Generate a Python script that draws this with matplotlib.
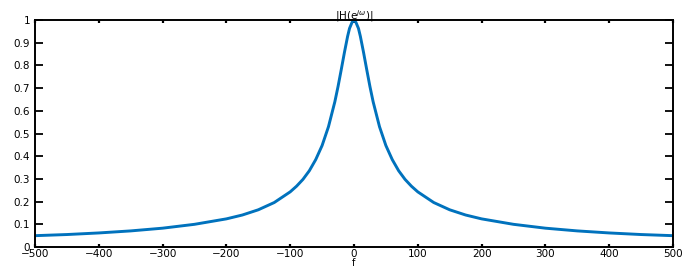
import matplotlib.pyplot as plt

# frequency points and magnitude values
f = [-500, -450, -400, -350, -300, -250, -200, -175, -150, -125, -100, -90, -80,
     -70, -60, -50, -40, -30, -25, -20, -15, -10, -7, -3, 0,
     3, 7, 10, 15, 20, 25, 30, 40, 50, 60, 70, 80, 90, 100,
     125, 150, 175, 200, 250, 300, 350, 400, 450, 500]
mag = [0.050, 0.055, 0.062, 0.071, 0.083, 0.100, 0.124, 0.141, 0.164, 0.196, 0.243, 0.268, 0.298,
       0.336, 0.385, 0.447, 0.530, 0.640, 0.707, 0.781, 0.857, 0.928, 0.963, 0.990, 1.000,
       0.990, 0.963, 0.928, 0.857, 0.781, 0.707, 0.640, 0.530, 0.447, 0.385, 0.336, 0.298, 0.268, 0.243,
       0.196, 0.164, 0.141, 0.124, 0.100, 0.083, 0.071, 0.062, 0.055, 0.050]

xticks = list(range(-500, 501, 100))
yticks = [i / 10 for i in range(11)]
ylabels = ['0', '0.1', '0.2', '0.3', '0.4', '0.5', '0.6', '0.7', '0.8', '0.9', '1']

plt.rcParams['font.family'] = ['DejaVu Sans']

fig = plt.figure(figsize=(7, 2.76), dpi=100)
ax = fig.add_axes([0.05, 0.105, 0.9114, 0.8225])
ax.plot(f, mag, color='#0072BD', linewidth=2.1)

ax.set_xlim(-500, 500)
ax.set_ylim(0, 1)
ax.set_xticks(xticks)
ax.set_yticks(yticks)
ax.set_yticklabels(ylabels)
ax.tick_params(axis='x', direction='in', length=2, width=1.6, labelsize=7.5,
               top=True, pad=1.5)
ax.tick_params(axis='y', direction='in', length=5.5, width=1.3, labelsize=7.5,
               right=True, pad=3.5)
for s in ax.spines.values():
    s.set_linewidth(1.4)

ax.set_title(r'|H(e$^{j\omega}$)|', fontsize=7.5, pad=0.5)
ax.set_xlabel('f', fontsize=7, labelpad=-0.5)

fig.savefig('out.png', dpi=100)
